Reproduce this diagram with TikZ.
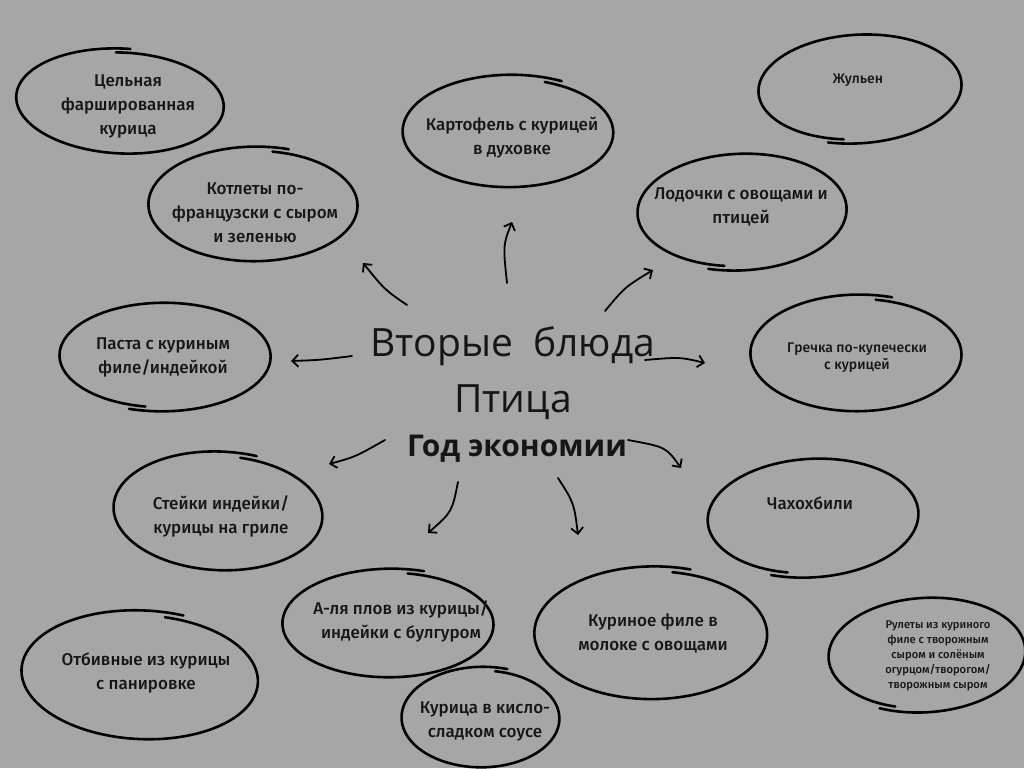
\documentclass[tikz,border=0pt]{standalone}
\usepackage{fontspec}
\setmainfont{Open Sans}
\newfontfamily\labelfont{Fira Sans Medium}
\usetikzlibrary{arrows.meta}
\definecolor{paper}{HTML}{A6A6A6}
\definecolor{ink}{HTML}{161616}
\tikzset{
    ring/.style={draw=black, line width=2.6pt, line cap=round},
    dish/.style={align=center, text=ink, font=\labelfont\fontsize{17}{24}\selectfont},
    smalldish/.style={align=center, text=ink, font=\labelfont\fontsize{14}{17}\selectfont},
    tinydish/.style={align=center, text=ink, font=\labelfont\fontsize{11.2}{15}\selectfont},
    headline/.style={anchor=base, text=ink, font=\fontsize{39}{44}\selectfont},
    hand/.style={-{Straight Barb[length=6pt,width=12pt]}, line width=1.8pt, line cap=round}
}
% hand drawn ring: centre x, centre y, rx, ry, rotation, start angle
\newcommand{\sketchring}[6]{%
    \pgfmathsetmacro\ringend{#6+368}%
    \draw[ring, shift={(#1,#2)}, rotate=#5]
        plot[domain=#6:\ringend, samples=120, smooth]
        ({#3*(0.95+0.00022*(\x-(#6)))*cos(\x)}, {#4*(0.95+0.00022*(\x-(#6)))*sin(\x)});
}

\begin{document}
\begin{tikzpicture}[x=1pt, y=-1pt]
\fill[paper] (0,0) rectangle (1024,768);
\useasboundingbox (0,0) rectangle (1024,768);

% title
\node[headline] (second) at (513,356) {Вторые~ блюда};
\node[headline] (bird) at (513,412) {Птица};
\node[headline, font=\bfseries\fontsize{30}{34}\selectfont] (economy) at (517,456) {Год экономии};

% dishes
\sketchring{122}{102}{105}{52}{-3}{-95}
\node[dish] (whole) at (128,106) {Цельная\\фаршированная\\курица};
\sketchring{255}{205}{106}{57}{0}{-80}
\node[dish] (cutlet) at (255,213) {Котлеты по-\\французски с сыром\\и зеленью};
\sketchring{510}{132}{107}{56}{0}{-70}
\node[dish] (potato) at (512,138) {Картофель с курицей\\в духовке};
\sketchring{858}{88}{103}{54}{3}{100}
\node[dish, font=\labelfont\fontsize{14}{17}\selectfont] (julienne) at (858,80) {Жульен};
\sketchring{740}{211}{106}{58}{2}{100}
\node[dish] (boats) at (741,207) {Лодочки с овощами и\\птицей};
\sketchring{163}{356}{107}{54}{0}{100}
\node[dish] (pasta) at (163,357) {Паста с куриным\\филе/индейкой};
\sketchring{858}{354}{107}{58}{0}{-80}
\node[smalldish] (buckwheat) at (857,358) {Гречка по-купечески\\с курицей};
\sketchring{220}{512}{106}{59}{-3}{-80}
\node[dish] (steak) at (221,516) {Стейки индейки/\\курицы на гриле};
\sketchring{811}{517}{107}{59}{3}{105}
\node[dish] (chakh) at (810,503) {Чахохбили};
\sketchring{390}{624}{107}{54}{0}{-80}
\node[dish] (pilaf) at (401,621) {А-ля плов из курицы/\\индейки с булгуром};
\sketchring{653}{634}{118}{66}{0}{-80}
\node[dish] (fillet) at (653,633) {Куриное филе в\\молоке с овощами};
\sketchring{142}{676}{120}{64}{-3}{-80}
\node[dish] (chop) at (146,673) {Отбивные из курицы\\с панировке};
\sketchring{482}{718}{80}{50}{0}{-80}
\node[dish] (sweet) at (485,721) {Курица в кисло-\\сладком соусе};
\sketchring{925}{654}{100}{57}{3}{110}
\node[tinydish] (roll) at (938,656) {Рулеты из куриного\\филе с творожным\\сыром и солёным\\огурцом/творогом/\\творожным сыром};

% arrow ends
\coordinate (t1) at (507,283); \coordinate (h1) at (512,222);
\coordinate (t2) at (407,305); \coordinate (h2) at (363,263);
\coordinate (t3) at (605,311); \coordinate (h3) at (653,270);
\coordinate (t4) at (352,356); \coordinate (h4) at (291,361);
\coordinate (t5) at (645,360); \coordinate (h5) at (705,363);
\coordinate (t6) at (385,440); \coordinate (h6) at (329,464);
\coordinate (t7) at (458,482); \coordinate (h7) at (428,533);
\coordinate (t8) at (558,478); \coordinate (h8) at (578,535);
\coordinate (t9) at (628,440); \coordinate (h9) at (681,468);

\draw[hand] (t1) .. controls (503,245) .. (h1);
\draw[hand] (t2) .. controls (385,290) .. (h2);
\draw[hand] (t3) .. controls (625,287) .. (h3);
\draw[hand] (t4) .. controls (320,360) .. (h4);
\draw[hand] (t5) .. controls (680,357) .. (h5);
\draw[hand] (t6) .. controls (355,457) .. (h6);
\draw[hand] (t7) .. controls (452,512) .. (h7);
\draw[hand] (t8) .. controls (574,503) .. (h8);
\draw[hand] (t9) .. controls (666,447) .. (h9);
\end{tikzpicture}
\end{document}
